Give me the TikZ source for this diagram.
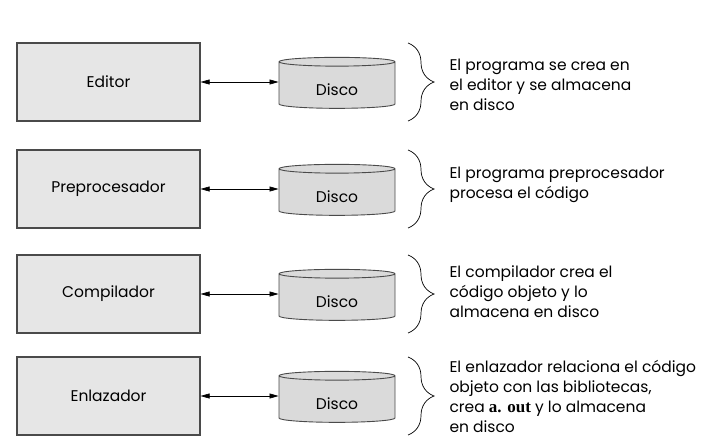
\documentclass[tikz,border=0pt]{standalone}
\usepackage{fontspec}
\setmainfont{Poppins}
\newfontfamily\codefont{Liberation Serif}
\usetikzlibrary{shapes.geometric,arrows.meta,decorations.pathreplacing}
\definecolor{boxgray}{HTML}{E6E6E6}
\definecolor{diskgray}{HTML}{DADADA}
\definecolor{linegray}{HTML}{4A4A4A}
\tikzset{
  stage/.style={draw=linegray, fill=boxgray, line width=1.1pt, minimum width=183pt, minimum height=78pt, font=\fontsize{15.5}{20}\selectfont},
  disk/.style={cylinder, shape border rotate=90, aspect=0.18, draw=linegray, fill=diskgray, line width=0.9pt, minimum width=116pt, minimum height=51pt, font=\fontsize{15.5}{20}\selectfont},
  disklabel/.style={label={[yshift=-4pt, font=\fontsize{15.5}{20}\selectfont]center:Disco}},
  note/.style={anchor=west, align=left, font=\fontsize{15.5}{20}\selectfont},
  link/.style={{Triangle[length=9pt,width=5pt]}-{Triangle[length=9pt,width=5pt]}, line width=0.6pt},
  curly/.style={decorate, decoration={brace, amplitude=26pt}, line width=0.7pt}
}
\begin{document}
\begin{tikzpicture}[x=1pt,y=-1pt]
\useasboundingbox (0,0) rectangle (709,442);
\foreach \n/\y/\ty/\stagename/\desc in {
 1/82/85/Editor/{El programa se crea en\\el editor y se almacena\\en disco},
 2/189/185/Preprocesador/{El programa preprocesador\\procesa el código},
 3/294/292/Compilador/{El compilador crea el\\código objeto y lo\\almacena en disco},
 4/396/396/Enlazador/{El enlazador relaciona el código\\objeto con las bibliotecas,\\crea {\codefont\bfseries\fontsize{17}{20}\selectfont a. out} y lo almacena\\en disco}}
{
\node[stage] (box\n) at (108.5,\y) {\stagename};
\node[disk, disklabel] (disk\n) at (337,\y+4) {\phantom{Disco}};
\draw[link] (box\n.east) -- (box\n.east -| disk\n.west);
\coordinate (top\n) at (408,\y-39);
\coordinate (bot\n) at (408,\y+39);
\draw[curly] (top\n) -- (bot\n);
\node[note] (text\n) at (446,\ty) {\desc};
}
\end{tikzpicture}
\end{document}
